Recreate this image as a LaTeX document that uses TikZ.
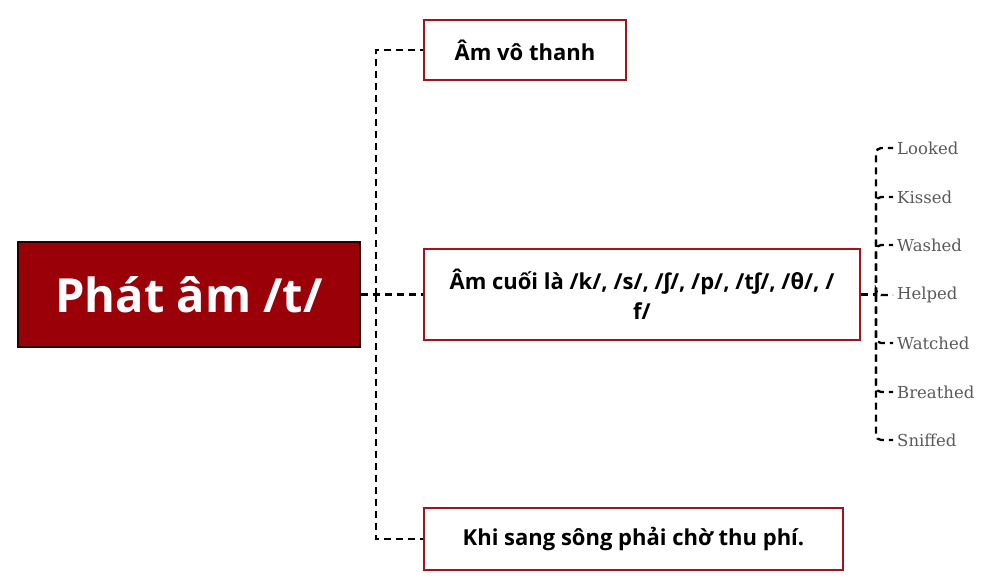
\documentclass[tikz,border=0pt]{standalone}
\usepackage{fontspec}
\setmainfont{Open Sans}
\newfontfamily\ipafont{Fira Sans}
\newfontfamily\leaffont{DejaVu Serif}
\newcommand{\esh}{{\ipafont ʃ}}
\definecolor{rootred}{HTML}{990008}
\definecolor{boxred}{HTML}{A3131E}
\definecolor{leafgray}{HTML}{5A5A5A}
\tikzset{
  rootbox/.style={draw=black!85!red, line width=2.4pt, fill=rootred, text=white, font=\bfseries\fontsize{47}{52}\selectfont, minimum width=342pt, minimum height=105pt, inner sep=0pt},
  subbox/.style={draw=boxred, line width=2.6pt, fill=white, font=\bfseries\fontsize{22}{30}\selectfont, align=center, inner sep=0pt},
  leafnode/.style={anchor=west, text=leafgray, font=\leaffont\fontsize{16.5}{18}\selectfont, inner xsep=4pt, inner ysep=0pt},
  dashline/.style={draw=black, line width=2.3pt, dash pattern=on 7pt off 5pt},
}
\begin{document}
\begin{tikzpicture}[x=1pt,y=-1pt]
\useasboundingbox[fill=white] (0,0) rectangle (1000,585);
\node[rootbox] (root) at (189,294.5) {Phát âm /t/};
\node[subbox, minimum width=202pt, minimum height=60pt] (b1) at (525,50) {Âm vô thanh};
\node[subbox, minimum width=436pt, minimum height=91pt] (b2) at (642,294.5) {Âm cuối là /k/, /s/, /\esh/, /p/, /t\esh/, /θ/, /\\f/};
\node[subbox, minimum width=419pt, minimum height=62pt] (b3) at (633.5,539) {Khi sang sông phải chờ thu phí.};
\coordinate (tr) at (376,294.5);
\coordinate (hub) at (876,294.5);
\draw[dashline] (root.east) -- (b2.west);
\draw[dashline] (tr) |- (b1.west);
\draw[dashline] (tr) |- (b3.west);
\draw[dashline] (b2.east) -- (hub);
\node[leafnode] (l1) at (893,148) {Looked};
\node[leafnode] (l2) at (893,197) {Kissed};
\node[leafnode] (l3) at (893,245) {Washed};
\node[leafnode] (l4) at (893,295) {Helped};
\node[leafnode] (l5) at (893,343) {Watched};
\node[leafnode] (l6) at (893,392) {Breathed};
\node[leafnode] (l7) at (893,440) {Sniffed};
\foreach \l in {l1,l2,l3,l4,l5,l6,l7}{
  \draw[dashline, rounded corners=5pt] (hub) |- (\l.west);
}
\end{tikzpicture}
\end{document}
